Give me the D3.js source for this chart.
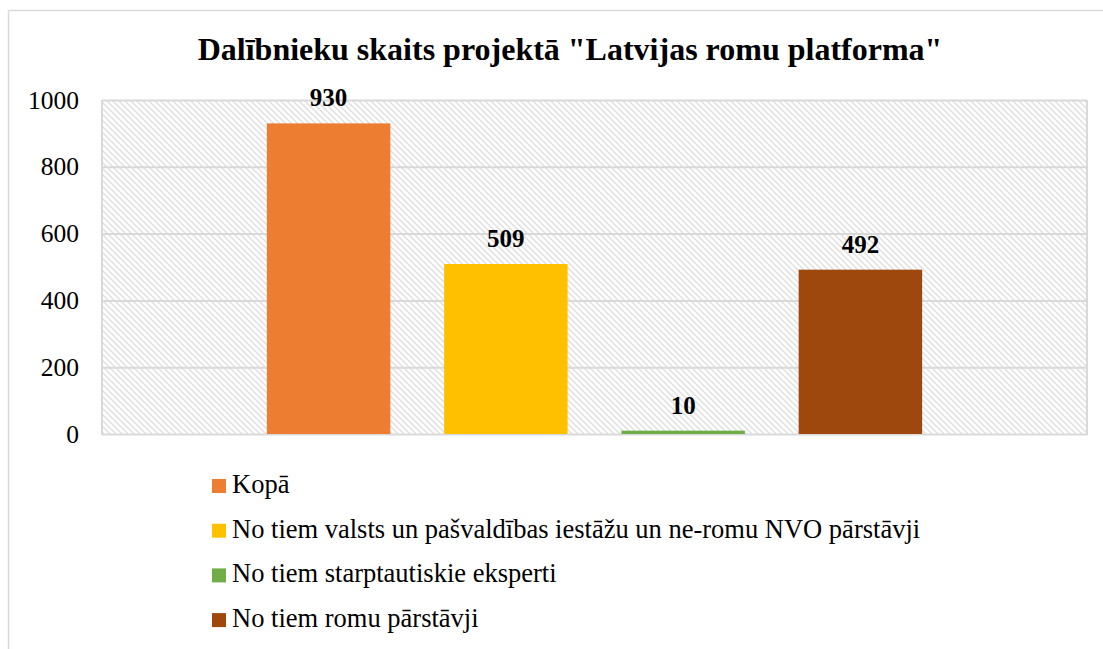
<!DOCTYPE html>
<html>
<head>
<meta charset="utf-8">
<script src="https://cdn.jsdelivr.net/npm/d3@7/dist/d3.min.js"></script>
<style>
  body { margin: 0; background: #fff; }
  svg { display: block; }
  svg text { font-family: 'Liberation Serif', 'Times New Roman', serif; }
</style>
</head>
<body>
<svg id="chart" width="1103" height="649"></svg>
<script>
const title = 'Dalībnieku skaits projektā "Latvijas romu platforma"';
const seriesNames = [
    "Kopā",
    "No tiem valsts un pašvaldības iestāžu un ne-romu NVO pārstāvji",
    "No tiem starptautiskie eksperti",
    "No tiem romu pārstāvji"
];
const seriesValues = [930, 509, 10, 492];
const seriesColors = ["#ED7D31", "#FFC000", "#70AD47", "#9E480E"];
const yTicks = [0, 200, 400, 600, 800, 1000];

const svg = d3.select("#chart");

// outer chart border
svg.append("rect")
    .attr("x", 8.5).attr("y", 10.5)
    .attr("width", 1100).attr("height", 650)
    .attr("fill", "#fff")
    .attr("stroke", "#d9d9d9")
    .attr("stroke-width", 1.5);

// hatch fill for plot area
const defs = svg.append("defs");
const pat = defs.append("pattern")
    .attr("id", "hatch")
    .attr("patternUnits", "userSpaceOnUse")
    .attr("width", 6).attr("height", 6);
pat.append("rect").attr("width", 6).attr("height", 6).attr("fill", "#fff");
pat.append("path")
    .attr("d", "M0,0 L6,6 M-3,3 L3,9 M3,-3 L9,3")
    .attr("stroke", "#e0e0e0")
    .attr("stroke-width", 1.5);

const plot = { left: 102, right: 1087, top: 100, bottom: 434 };

const y = d3.scaleLinear().domain([0, 1000]).range([plot.bottom, plot.top]);

const x = d3.scaleBand()
    .domain(seriesNames)
    .range([plot.left, plot.right])
    .paddingInner(54 / 178)
    .paddingOuter(0.93);

svg.append("rect")
    .attr("x", plot.left).attr("y", plot.top)
    .attr("width", plot.right - plot.left)
    .attr("height", plot.bottom - plot.top)
    .attr("fill", "url(#hatch)");

// gridlines
svg.append("g")
    .selectAll("line")
    .data(yTicks)
    .join("line")
    .attr("x1", plot.left).attr("x2", plot.right)
    .attr("y1", d => y(d) + 0.5).attr("y2", d => y(d) + 0.5)
    .attr("stroke", "#d9d9d9")
    .attr("stroke-width", 2);

// plot area side borders
[plot.left, plot.right].forEach(px => {
    svg.append("line")
        .attr("x1", px).attr("x2", px)
        .attr("y1", plot.top).attr("y2", plot.bottom + 1)
        .attr("stroke", "#d9d9d9").attr("stroke-width", 2);
});

// y axis labels
const yAxis = d3.axisLeft(y).tickValues(yTicks).tickFormat(d3.format("d")).tickSize(0).tickPadding(0);
const gy = svg.append("g")
    .attr("transform", "translate(79,0)")
    .call(yAxis)
    .attr("font-family", null)
    .attr("font-size", null);
gy.select(".domain").remove();
gy.selectAll("text")
    .style("font-size", "25.5px")
    .attr("fill", "#000");

// bars
svg.append("g")
    .selectAll("rect")
    .data(seriesNames)
    .join("rect")
    .attr("x", d => x(d))
    .attr("y", (d, i) => y(seriesValues[i]))
    .attr("width", x.bandwidth())
    .attr("height", (d, i) => y(0) - y(seriesValues[i]))
    .attr("fill", (d, i) => seriesColors[i]);

// value labels
svg.append("g")
    .selectAll("text")
    .data(seriesNames)
    .join("text")
    .attr("x", d => x(d) + x.bandwidth() / 2)
    .attr("y", (d, i) => y(seriesValues[i]) - 17)
    .attr("text-anchor", "middle")
    .style("font-size", "25px")
    .attr("font-weight", "bold")
    .attr("fill", "#000")
    .text((d, i) => seriesValues[i]);

// title
svg.append("text")
    .attr("x", 570).attr("y", 60)
    .attr("text-anchor", "middle")
    .style("font-size", "32px")
    .attr("font-weight", "bold")
    .attr("fill", "#000")
    .text(title);

// legend
const legend = svg.append("g")
    .selectAll("g")
    .data(seriesNames)
    .join("g")
    .attr("transform", (d, i) => `translate(212,${493 + i * 44.7})`);
legend.append("rect")
    .attr("x", 0).attr("y", -14)
    .attr("width", 14).attr("height", 14)
    .attr("fill", (d, i) => seriesColors[i]);
legend.append("text")
    .attr("x", 20).attr("y", 0)
    .style("font-size", "26.5px")
    .attr("fill", "#000")
    .text(d => d);
</script>
</body>
</html>
